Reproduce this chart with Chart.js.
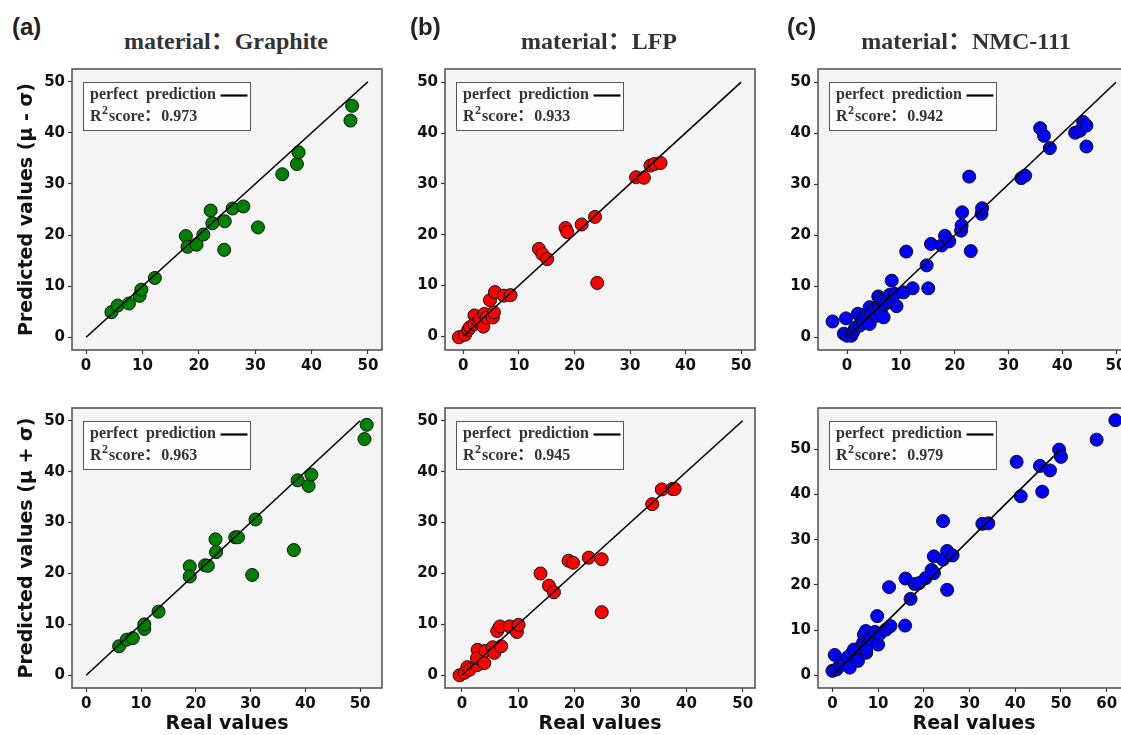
<!DOCTYPE html>
<html><head><meta charset="utf-8">
<script src="https://cdn.jsdelivr.net/npm/chart.js@4.4.1/dist/chart.umd.min.js"></script>
<style>
html,body{margin:0;padding:0;background:#fff;width:1121px;height:735px;overflow:hidden;position:relative}
.panel{position:absolute}
.title{position:absolute;font:bold 24px "Liberation Serif","Noto Sans CJK SC",serif;color:#333;line-height:24px;white-space:nowrap;transform:translateX(-50%)}
.tag{position:absolute;font:bold 24px "Liberation Sans",Arial,sans-serif;color:#222;line-height:24px;white-space:nowrap}
</style></head><body>
<script>
// ---- data ----
const materials = ['Graphite', 'LFP', 'NMC-111'];
const panelTags = ['(a)', '(b)', '(c)'];
const yTitles = ['Predicted values (μ - σ)', 'Predicted values (μ + σ)'];
const xTitle = 'Real values';
const legendLabel = 'perfect  prediction';
const r2Scores = ['0.973', '0.933', '0.942', '0.963', '0.945', '0.979'];
const perfectLine = [0, 50];
const ticks50 = [0, 10, 20, 30, 40, 50];
const ticks60 = [0, 10, 20, 30, 40, 50, 60];

const graphiteMinusX = [4.5,5.6,7.6,9.5,9.8,12.2,17.7,18.0,19.6,20.8,22.1,22.4,24.6,24.5,26.0,27.9,30.5,34.8,37.4,37.7,46.9,47.2];
const graphiteMinusY = [4.9,6.2,6.6,8.1,9.3,11.6,19.8,17.7,18.1,20.1,24.8,22.3,22.7,17.1,25.2,25.6,21.5,31.9,33.9,36.2,42.4,45.3];

const lfpMinusX = [-0.8,0.3,0.9,1.2,2.0,2.0,2.7,3.0,3.6,3.8,4.2,4.8,5.3,5.5,5.7,7.3,8.5,13.6,14.2,15.1,18.4,18.7,21.3,23.7,24.1,31.1,32.5,33.7,34.4,35.5];
const lfpMinusY = [-0.2,0.3,1.3,1.8,4.1,2.4,2.8,3.4,1.9,4.4,3.7,7.1,3.7,4.7,8.7,8.0,8.1,17.2,16.2,15.2,21.3,20.5,22.0,23.5,10.5,31.3,31.2,33.6,33.9,34.1];

const nmcMinusX = [-2.7,-0.2,-0.6,0.0,0.8,1.1,1.4,1.7,2.0,2.4,2.9,3.0,3.5,3.7,4.2,4.2,4.5,5.1,5.5,5.8,5.9,6.1,6.4,6.6,6.8,7.0,7.6,7.9,8.3,8.4,8.9,9.2,10.5,11.0,12.2,14.8,15.1,15.6,17.6,18.2,19.0,21.2,21.3,21.4,22.7,23.0,25.0,25.1,32.4,33.1,35.9,36.6,37.7,42.4,43.3,43.9,44.5,44.5];
const nmcMinusY = [3.1,3.7,0.7,0.3,0.3,1.0,1.6,2.0,4.6,2.3,3.5,2.9,3.9,4.7,2.6,5.9,4.9,5.6,4.2,8.0,6.2,7.5,4.6,7.1,3.9,6.5,6.9,8.3,11.1,7.5,8.5,6.1,8.8,16.8,9.6,14.1,9.6,18.3,18.0,19.9,18.8,20.9,21.9,24.5,31.5,16.9,24.2,25.3,31.2,31.7,41.0,39.5,37.1,40.1,40.5,42.2,41.5,37.4];

const graphitePlusX = [6.0,7.4,8.5,10.6,10.6,13.2,18.9,18.9,21.7,22.2,23.6,23.7,27.2,27.7,30.3,30.9,37.9,38.6,40.6,41.1,50.8,51.2];
const graphitePlusY = [5.7,7.0,7.3,9.1,10.0,12.5,21.4,19.4,21.6,21.5,26.7,24.2,27.1,27.1,19.7,30.6,24.6,38.3,37.2,39.4,46.4,49.2];

const lfpPlusX = [-0.4,0.5,1.0,1.4,2.7,2.8,2.7,4.0,4.2,5.5,5.8,6.3,6.8,7.0,8.5,9.8,10.1,14.0,15.5,16.4,19.0,19.8,22.6,24.9,24.9,33.9,35.6,37.5,37.9];
const lfpPlusY = [0.0,0.5,1.6,1.1,2.0,5.0,3.4,2.4,4.8,5.5,4.4,8.7,9.6,5.7,9.6,8.5,9.9,20.0,17.6,16.3,22.5,22.1,23.1,22.8,12.4,33.6,36.5,36.6,36.6];

const nmcPlusX = [0.0,0.5,0.9,1.6,2.3,3.2,3.8,4.2,4.7,5.6,6.0,6.7,6.9,7.3,7.4,7.4,8.5,9.3,9.8,10.0,10.4,11.7,12.7,12.4,15.9,16.0,17.1,18.0,19.0,20.4,21.7,22.2,22.2,24.2,24.2,25.1,25.1,26.3,32.8,34.1,40.3,41.2,45.4,45.9,47.6,49.6,50.0,57.8,61.9];
const nmcPlusY = [1.0,4.5,1.3,2.1,2.6,3.9,1.7,4.8,5.7,3.2,6.1,7.2,9.0,9.8,5.0,5.7,7.9,9.6,13.1,6.8,9.2,10.1,10.9,19.5,11.0,21.4,16.9,20.2,20.4,21.5,23.3,26.3,22.6,34.1,25.6,27.5,18.9,26.5,33.5,33.6,47.2,39.6,46.3,40.6,45.3,49.9,48.3,52.1,56.4];

// ---- layout / style ----
const panels = [
  {x: graphiteMinusX, y: graphiteMinusY, color: '#008000', xr: [-2.5, 52.5], yr: [-2.5, 52.5], xt: ticks50, yt: ticks50},
  {x: lfpMinusX, y: lfpMinusY, color: '#ff0000', xr: [-3.3, 52.5], yr: [-2.7, 52.6], xt: ticks50, yt: ticks50},
  {x: nmcMinusX, y: nmcMinusY, color: '#0000ff', xr: [-5.4, 52.6], yr: [-2.5, 52.6], xt: ticks50, yt: ticks50},
  {x: graphitePlusX, y: graphitePlusY, color: '#008000', xr: [-2.6, 54.0], yr: [-2.5, 52.5], xt: ticks50, yt: ticks50},
  {x: lfpPlusX, y: lfpPlusY, color: '#ff0000', xr: [-3.0, 52.2], yr: [-2.5, 52.5], xt: ticks50, yt: ticks50},
  {x: nmcPlusX, y: nmcPlusY, color: '#0000ff', xr: [-3.15, 65.1], yr: [-2.8, 59.1], xt: ticks60, yt: ticks50},
];
const colLeft = [72, 445, 818], colW = [310, 310, 312], colCenter = [226, 599, 966];
const rowTop = [69, 408], rowH = [281, 280];
const tagLeft = [12, 410, 787];

const tickFont = {family: '"DejaVu Sans", sans-serif', weight: 'bold', size: 15};
const titleFont = {family: '"DejaVu Sans", sans-serif', weight: 'bold', size: 19, lineHeight: 1.2};
const serif = '"Liberation Serif", "Noto Sans CJK SC", serif';

function framePlugin(idx) {
  return {
    id: 'frame' + idx,
    beforeDraw(chart) {
      const a = chart.chartArea, c = chart.ctx;
      c.save(); c.fillStyle = '#f4f4f4'; c.fillRect(a.left, a.top, a.width, a.height); c.restore();
    },
    afterDatasetsDraw(chart) {
      const a = chart.chartArea, c = chart.ctx;
      c.save();
      c.strokeStyle = '#4d4d4d'; c.lineWidth = 1.5;
      c.strokeRect(a.left, a.top, a.width, a.height);
      // legend box
      const x0 = Math.round(a.left + 11) + 0.5, y0 = Math.round(a.top + 13) + 0.5, w = 167, h = 48;
      c.fillStyle = 'rgba(255,255,255,0.85)'; c.fillRect(x0, y0, w, h);
      c.strokeStyle = '#555'; c.lineWidth = 1; c.strokeRect(x0, y0, w, h);
      c.fillStyle = '#333'; c.textBaseline = 'alphabetic'; c.textAlign = 'left';
      c.font = 'bold 16px ' + serif;
      c.fillText(legendLabel, x0 + 6.5, y0 + 16.5);
      c.strokeStyle = '#000'; c.lineWidth = 2.2;
      c.beginPath(); c.moveTo(x0 + 137, y0 + 13); c.lineTo(x0 + 164, y0 + 13); c.stroke();
      let tx = x0 + 6.5;
      c.fillText('R', tx, y0 + 38); tx += c.measureText('R').width + 0.5;
      c.font = 'bold 12px ' + serif;
      c.fillText('2', tx, y0 + 31); tx += c.measureText('2').width + 1;
      c.font = 'bold 16px ' + serif;
      const s = 'score：';
      c.fillText(s, tx, y0 + 38); tx += c.measureText(s).width + 1;
      c.fillText(r2Scores[idx], tx, y0 + 38);
      c.restore();
    }
  };
}

function makePanel(p, idx) {
  const col = idx % 3, row = Math.floor(idx / 3);
  const YW = 70, PT = 15, PR = 16, XH = row === 0 ? 30 : 47;
  const div = document.createElement('div');
  div.className = 'panel';
  div.style.left = (colLeft[col] - YW) + 'px';
  div.style.top = (rowTop[row] - PT) + 'px';
  div.style.width = (YW + colW[col] + PR) + 'px';
  div.style.height = (PT + rowH[row] + XH) + 'px';
  const cv = document.createElement('canvas');
  div.appendChild(cv);
  document.body.appendChild(div);
  new Chart(cv, {
    type: 'scatter',
    data: {datasets: [
      {data: perfectLine.map(v => ({x: v, y: v})), showLine: true, borderColor: '#000', borderWidth: 1.6, pointRadius: 0, order: 0},
      {data: p.x.map((v, i) => ({x: v, y: p.y[i]})), backgroundColor: p.color, borderColor: '#111', borderWidth: 1, pointRadius: 6.5, order: 1}
    ]},
    options: {
      responsive: true, maintainAspectRatio: false, animation: false, devicePixelRatio: 1,
      layout: {padding: {top: PT, right: PR, left: 0, bottom: 0}},
      plugins: {legend: {display: false}, tooltip: {enabled: false}},
      scales: {
        x: {
          type: 'linear', min: p.xr[0], max: p.xr[1],
          afterBuildTicks: s => { s.ticks = p.xt.map(v => ({value: v})); },
          afterFit: s => { s.height = XH; },
          grid: {drawOnChartArea: false, drawTicks: true, tickLength: 4, tickColor: '#333', tickWidth: 1.2},
          border: {display: false},
          ticks: {font: tickFont, color: '#111', padding: 3, maxRotation: 0, autoSkip: false},
          title: {display: row === 1, text: xTitle, font: titleFont, color: '#111', padding: {top: 0, bottom: 0}}
        },
        y: {
          type: 'linear', min: p.yr[0], max: p.yr[1],
          afterBuildTicks: s => { s.ticks = p.yt.map(v => ({value: v})); },
          afterFit: s => { s.width = YW; },
          grid: {drawOnChartArea: false, drawTicks: true, tickLength: 4, tickColor: '#333', tickWidth: 1.2},
          border: {display: false},
          ticks: {font: tickFont, color: '#111', padding: 3, autoSkip: false},
          title: {display: col === 0, text: yTitles[row], font: titleFont, color: '#111', padding: {top: 14, bottom: 0}}
        }
      }
    },
    plugins: [framePlugin(idx)]
  });
}

panels.forEach(makePanel);

materials.forEach((m, i) => {
  const t = document.createElement('div');
  t.className = 'title';
  t.textContent = 'material：' + m;
  t.style.left = colCenter[i] + 'px';
  t.style.top = '29px';
  document.body.appendChild(t);
  const g = document.createElement('div');
  g.className = 'tag';
  g.textContent = panelTags[i];
  g.style.left = tagLeft[i] + 'px';
  g.style.top = '15px';
  document.body.appendChild(g);
});
</script>
</body></html>
